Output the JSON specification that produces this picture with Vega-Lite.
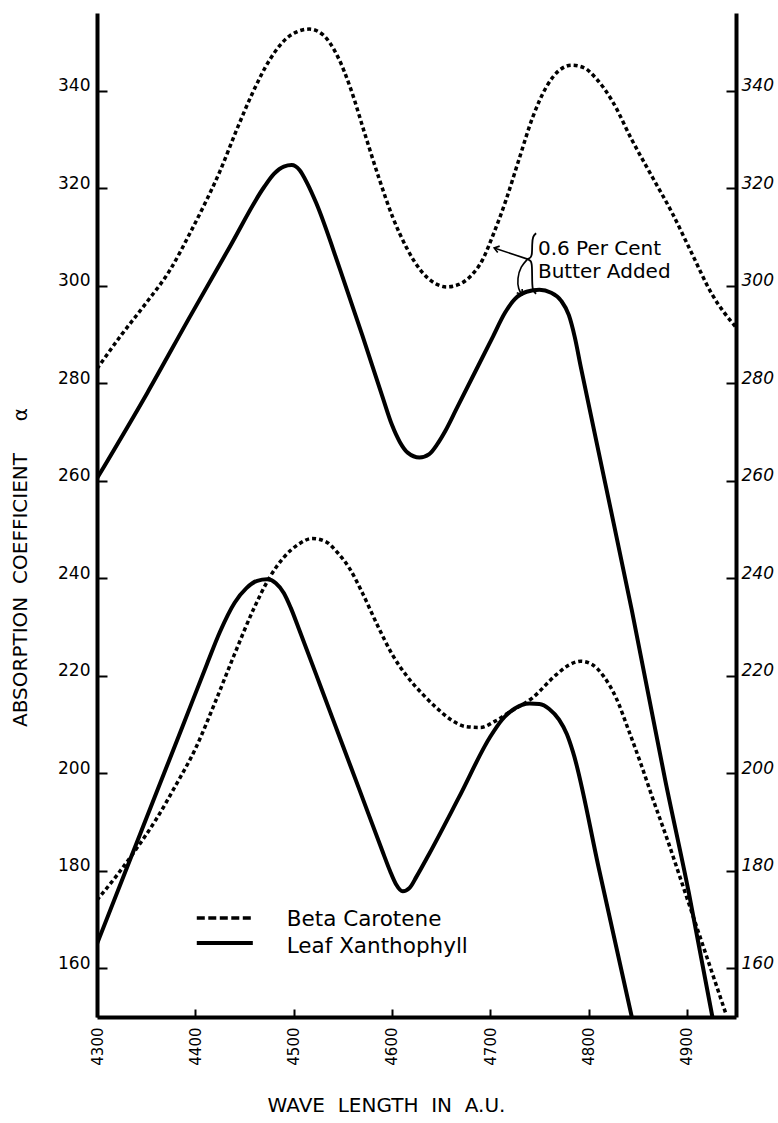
{
  "$schema": "https://vega.github.io/schema/vega-lite/v6.json",
  "width": 639,
  "height": 1004,
  "autosize": {"type": "none"},
  "padding": {"left": 97, "top": 13, "right": 42, "bottom": 106},
  "background": "white",
  "config": {
    "view": {"stroke": null},
    "font": "DejaVu Sans",
    "axis": {
      "grid": false,
      "domainColor": "black",
      "domainWidth": 4,
      "tickColor": "black",
      "tickWidth": 2,
      "labelColor": "black",
      "titleColor": "black",
      "labelFont": "DejaVu Sans",
      "titleFont": "DejaVu Sans",
      "titleFontWeight": "normal"
    }
  },
  "datasets": {
    "curves": [
      {"s": "Beta Carotene", "g": "butter", "w": 4300, "a": 283},
      {"s": "Beta Carotene", "g": "butter", "w": 4325, "a": 290},
      {"s": "Beta Carotene", "g": "butter", "w": 4350, "a": 296.5},
      {"s": "Beta Carotene", "g": "butter", "w": 4375, "a": 303.5},
      {"s": "Beta Carotene", "g": "butter", "w": 4395, "a": 311},
      {"s": "Beta Carotene", "g": "butter", "w": 4410, "a": 317},
      {"s": "Beta Carotene", "g": "butter", "w": 4425, "a": 323.5},
      {"s": "Beta Carotene", "g": "butter", "w": 4442, "a": 332},
      {"s": "Beta Carotene", "g": "butter", "w": 4458, "a": 339.5},
      {"s": "Beta Carotene", "g": "butter", "w": 4476, "a": 346.5},
      {"s": "Beta Carotene", "g": "butter", "w": 4496, "a": 351.3},
      {"s": "Beta Carotene", "g": "butter", "w": 4516, "a": 352.7},
      {"s": "Beta Carotene", "g": "butter", "w": 4530, "a": 351.5},
      {"s": "Beta Carotene", "g": "butter", "w": 4545, "a": 347},
      {"s": "Beta Carotene", "g": "butter", "w": 4558, "a": 340.5},
      {"s": "Beta Carotene", "g": "butter", "w": 4572, "a": 331.5},
      {"s": "Beta Carotene", "g": "butter", "w": 4587, "a": 322},
      {"s": "Beta Carotene", "g": "butter", "w": 4601, "a": 314},
      {"s": "Beta Carotene", "g": "butter", "w": 4615, "a": 307.8},
      {"s": "Beta Carotene", "g": "butter", "w": 4630, "a": 303},
      {"s": "Beta Carotene", "g": "butter", "w": 4644, "a": 300.5},
      {"s": "Beta Carotene", "g": "butter", "w": 4656, "a": 299.8},
      {"s": "Beta Carotene", "g": "butter", "w": 4668, "a": 300.3},
      {"s": "Beta Carotene", "g": "butter", "w": 4680, "a": 302},
      {"s": "Beta Carotene", "g": "butter", "w": 4692, "a": 305.3},
      {"s": "Beta Carotene", "g": "butter", "w": 4703, "a": 310.5},
      {"s": "Beta Carotene", "g": "butter", "w": 4716, "a": 317.6},
      {"s": "Beta Carotene", "g": "butter", "w": 4729, "a": 325.8},
      {"s": "Beta Carotene", "g": "butter", "w": 4743, "a": 334.5},
      {"s": "Beta Carotene", "g": "butter", "w": 4757, "a": 340.8},
      {"s": "Beta Carotene", "g": "butter", "w": 4770, "a": 344.2},
      {"s": "Beta Carotene", "g": "butter", "w": 4783, "a": 345.3},
      {"s": "Beta Carotene", "g": "butter", "w": 4795, "a": 344.8},
      {"s": "Beta Carotene", "g": "butter", "w": 4808, "a": 342.5},
      {"s": "Beta Carotene", "g": "butter", "w": 4824, "a": 338},
      {"s": "Beta Carotene", "g": "butter", "w": 4844, "a": 330},
      {"s": "Beta Carotene", "g": "butter", "w": 4865, "a": 322.3},
      {"s": "Beta Carotene", "g": "butter", "w": 4885, "a": 315},
      {"s": "Beta Carotene", "g": "butter", "w": 4905, "a": 306.7},
      {"s": "Beta Carotene", "g": "butter", "w": 4925, "a": 298.5},
      {"s": "Beta Carotene", "g": "butter", "w": 4950, "a": 291.5},
      {"s": "Leaf Xanthophyll", "g": "butter", "w": 4300, "a": 260.5},
      {"s": "Leaf Xanthophyll", "g": "butter", "w": 4351, "a": 278},
      {"s": "Leaf Xanthophyll", "g": "butter", "w": 4394, "a": 293.5},
      {"s": "Leaf Xanthophyll", "g": "butter", "w": 4435, "a": 308},
      {"s": "Leaf Xanthophyll", "g": "butter", "w": 4470, "a": 320.3},
      {"s": "Leaf Xanthophyll", "g": "butter", "w": 4480, "a": 323},
      {"s": "Leaf Xanthophyll", "g": "butter", "w": 4490, "a": 324.5},
      {"s": "Leaf Xanthophyll", "g": "butter", "w": 4498, "a": 324.8},
      {"s": "Leaf Xanthophyll", "g": "butter", "w": 4506, "a": 323.8},
      {"s": "Leaf Xanthophyll", "g": "butter", "w": 4514, "a": 321},
      {"s": "Leaf Xanthophyll", "g": "butter", "w": 4523, "a": 317},
      {"s": "Leaf Xanthophyll", "g": "butter", "w": 4547, "a": 303.5},
      {"s": "Leaf Xanthophyll", "g": "butter", "w": 4570, "a": 289.8},
      {"s": "Leaf Xanthophyll", "g": "butter", "w": 4590, "a": 277.5},
      {"s": "Leaf Xanthophyll", "g": "butter", "w": 4600, "a": 271.5},
      {"s": "Leaf Xanthophyll", "g": "butter", "w": 4608, "a": 268},
      {"s": "Leaf Xanthophyll", "g": "butter", "w": 4616, "a": 265.8},
      {"s": "Leaf Xanthophyll", "g": "butter", "w": 4628, "a": 264.8},
      {"s": "Leaf Xanthophyll", "g": "butter", "w": 4638, "a": 265.5},
      {"s": "Leaf Xanthophyll", "g": "butter", "w": 4646, "a": 267.5},
      {"s": "Leaf Xanthophyll", "g": "butter", "w": 4655, "a": 270.5},
      {"s": "Leaf Xanthophyll", "g": "butter", "w": 4665, "a": 274.5},
      {"s": "Leaf Xanthophyll", "g": "butter", "w": 4686, "a": 282.9},
      {"s": "Leaf Xanthophyll", "g": "butter", "w": 4702, "a": 289.3},
      {"s": "Leaf Xanthophyll", "g": "butter", "w": 4715, "a": 294.5},
      {"s": "Leaf Xanthophyll", "g": "butter", "w": 4725, "a": 297.3},
      {"s": "Leaf Xanthophyll", "g": "butter", "w": 4737, "a": 298.8},
      {"s": "Leaf Xanthophyll", "g": "butter", "w": 4750, "a": 299.2},
      {"s": "Leaf Xanthophyll", "g": "butter", "w": 4762, "a": 298.6},
      {"s": "Leaf Xanthophyll", "g": "butter", "w": 4772, "a": 297},
      {"s": "Leaf Xanthophyll", "g": "butter", "w": 4780, "a": 294},
      {"s": "Leaf Xanthophyll", "g": "butter", "w": 4786, "a": 289.5},
      {"s": "Leaf Xanthophyll", "g": "butter", "w": 4792, "a": 283.5},
      {"s": "Leaf Xanthophyll", "g": "butter", "w": 4817, "a": 259.5},
      {"s": "Leaf Xanthophyll", "g": "butter", "w": 4844, "a": 233.5},
      {"s": "Leaf Xanthophyll", "g": "butter", "w": 4878, "a": 198.6},
      {"s": "Leaf Xanthophyll", "g": "butter", "w": 4902, "a": 175.5},
      {"s": "Leaf Xanthophyll", "g": "butter", "w": 4926, "a": 150},
      {"s": "Beta Carotene", "g": "none", "w": 4300, "a": 174},
      {"s": "Beta Carotene", "g": "none", "w": 4320, "a": 179},
      {"s": "Beta Carotene", "g": "none", "w": 4340, "a": 184.5},
      {"s": "Beta Carotene", "g": "none", "w": 4360, "a": 190.5},
      {"s": "Beta Carotene", "g": "none", "w": 4380, "a": 197.5},
      {"s": "Beta Carotene", "g": "none", "w": 4400, "a": 205},
      {"s": "Beta Carotene", "g": "none", "w": 4420, "a": 214.5},
      {"s": "Beta Carotene", "g": "none", "w": 4440, "a": 224.5},
      {"s": "Beta Carotene", "g": "none", "w": 4460, "a": 234},
      {"s": "Beta Carotene", "g": "none", "w": 4475, "a": 240},
      {"s": "Beta Carotene", "g": "none", "w": 4490, "a": 244.3},
      {"s": "Beta Carotene", "g": "none", "w": 4505, "a": 247},
      {"s": "Beta Carotene", "g": "none", "w": 4519, "a": 248.2},
      {"s": "Beta Carotene", "g": "none", "w": 4533, "a": 247.5},
      {"s": "Beta Carotene", "g": "none", "w": 4545, "a": 245.2},
      {"s": "Beta Carotene", "g": "none", "w": 4557, "a": 242},
      {"s": "Beta Carotene", "g": "none", "w": 4570, "a": 237},
      {"s": "Beta Carotene", "g": "none", "w": 4585, "a": 230.5},
      {"s": "Beta Carotene", "g": "none", "w": 4600, "a": 224.5},
      {"s": "Beta Carotene", "g": "none", "w": 4615, "a": 220},
      {"s": "Beta Carotene", "g": "none", "w": 4630, "a": 216.5},
      {"s": "Beta Carotene", "g": "none", "w": 4645, "a": 213.5},
      {"s": "Beta Carotene", "g": "none", "w": 4660, "a": 211},
      {"s": "Beta Carotene", "g": "none", "w": 4675, "a": 209.6},
      {"s": "Beta Carotene", "g": "none", "w": 4690, "a": 209.4},
      {"s": "Beta Carotene", "g": "none", "w": 4705, "a": 210.7},
      {"s": "Beta Carotene", "g": "none", "w": 4720, "a": 212.6},
      {"s": "Beta Carotene", "g": "none", "w": 4743, "a": 215.5},
      {"s": "Beta Carotene", "g": "none", "w": 4767, "a": 220.2},
      {"s": "Beta Carotene", "g": "none", "w": 4780, "a": 222.2},
      {"s": "Beta Carotene", "g": "none", "w": 4792, "a": 223},
      {"s": "Beta Carotene", "g": "none", "w": 4803, "a": 222.4},
      {"s": "Beta Carotene", "g": "none", "w": 4815, "a": 220},
      {"s": "Beta Carotene", "g": "none", "w": 4828, "a": 215.5},
      {"s": "Beta Carotene", "g": "none", "w": 4841, "a": 208.7},
      {"s": "Beta Carotene", "g": "none", "w": 4854, "a": 201.5},
      {"s": "Beta Carotene", "g": "none", "w": 4865, "a": 195},
      {"s": "Beta Carotene", "g": "none", "w": 4880, "a": 186.5},
      {"s": "Beta Carotene", "g": "none", "w": 4895, "a": 177.5},
      {"s": "Beta Carotene", "g": "none", "w": 4912, "a": 167.3},
      {"s": "Beta Carotene", "g": "none", "w": 4925, "a": 159.5},
      {"s": "Beta Carotene", "g": "none", "w": 4940, "a": 150.5},
      {"s": "Leaf Xanthophyll", "g": "none", "w": 4300, "a": 165},
      {"s": "Leaf Xanthophyll", "g": "none", "w": 4337, "a": 184},
      {"s": "Leaf Xanthophyll", "g": "none", "w": 4361, "a": 196.3},
      {"s": "Leaf Xanthophyll", "g": "none", "w": 4387, "a": 209.6},
      {"s": "Leaf Xanthophyll", "g": "none", "w": 4412, "a": 222.5},
      {"s": "Leaf Xanthophyll", "g": "none", "w": 4425, "a": 229},
      {"s": "Leaf Xanthophyll", "g": "none", "w": 4440, "a": 235},
      {"s": "Leaf Xanthophyll", "g": "none", "w": 4452, "a": 238},
      {"s": "Leaf Xanthophyll", "g": "none", "w": 4463, "a": 239.5},
      {"s": "Leaf Xanthophyll", "g": "none", "w": 4473, "a": 239.8},
      {"s": "Leaf Xanthophyll", "g": "none", "w": 4482, "a": 239},
      {"s": "Leaf Xanthophyll", "g": "none", "w": 4490, "a": 237},
      {"s": "Leaf Xanthophyll", "g": "none", "w": 4497, "a": 234},
      {"s": "Leaf Xanthophyll", "g": "none", "w": 4506, "a": 229.3},
      {"s": "Leaf Xanthophyll", "g": "none", "w": 4529, "a": 217},
      {"s": "Leaf Xanthophyll", "g": "none", "w": 4550, "a": 205.7},
      {"s": "Leaf Xanthophyll", "g": "none", "w": 4567, "a": 196.6},
      {"s": "Leaf Xanthophyll", "g": "none", "w": 4590, "a": 184.2},
      {"s": "Leaf Xanthophyll", "g": "none", "w": 4598, "a": 180},
      {"s": "Leaf Xanthophyll", "g": "none", "w": 4604, "a": 177.3},
      {"s": "Leaf Xanthophyll", "g": "none", "w": 4611, "a": 175.8},
      {"s": "Leaf Xanthophyll", "g": "none", "w": 4618, "a": 176.5},
      {"s": "Leaf Xanthophyll", "g": "none", "w": 4625, "a": 178.8},
      {"s": "Leaf Xanthophyll", "g": "none", "w": 4638, "a": 183.5},
      {"s": "Leaf Xanthophyll", "g": "none", "w": 4668, "a": 195},
      {"s": "Leaf Xanthophyll", "g": "none", "w": 4700, "a": 207.5},
      {"s": "Leaf Xanthophyll", "g": "none", "w": 4712, "a": 211},
      {"s": "Leaf Xanthophyll", "g": "none", "w": 4725, "a": 213.3},
      {"s": "Leaf Xanthophyll", "g": "none", "w": 4740, "a": 214.3},
      {"s": "Leaf Xanthophyll", "g": "none", "w": 4750, "a": 214.2},
      {"s": "Leaf Xanthophyll", "g": "none", "w": 4760, "a": 213.2},
      {"s": "Leaf Xanthophyll", "g": "none", "w": 4770, "a": 211},
      {"s": "Leaf Xanthophyll", "g": "none", "w": 4778, "a": 208},
      {"s": "Leaf Xanthophyll", "g": "none", "w": 4784, "a": 204.5},
      {"s": "Leaf Xanthophyll", "g": "none", "w": 4811, "a": 180},
      {"s": "Leaf Xanthophyll", "g": "none", "w": 4844, "a": 150}
    ]
  },
  "encoding": {
    "x": {"field": "w", "type": "quantitative", "scale": {"domain": [4300, 4950], "nice": false, "zero": false},
      "axis": {"values": [4300, 4400, 4500, 4600, 4700, 4800, 4900], "format": "d", "labelAngle": -90, "labelFontSize": 15, "tickSize": -8, "labelPadding": 18,
        "title": "WAVE\u00a0 LENGTH\u00a0 IN\u00a0 A.U.", "titleFontSize": 20, "titleX": 289, "titleY": 88, "titleAlign": "center", "titleBaseline": "middle"}},
    "y": {"field": "a", "type": "quantitative", "scale": {"domain": [150, 356], "nice": false, "zero": false}, "axis": null}
  },
  "layer": [
    {
      "data": {"name": "curves"},
      "transform": [{"filter": "datum.s == 'Leaf Xanthophyll'"}],
      "mark": {"type": "line", "color": "black", "strokeWidth": 4, "interpolate": "monotone", "clip": true, "strokeJoin": "round"},
      "encoding": {
        "y": {"field": "a", "type": "quantitative", "scale": {"domain": [150, 356], "nice": false, "zero": false},
          "axis": {"orient": "left", "values": [160, 180, 200, 220, 240, 260, 280, 300, 320, 340], "labelFontSize": 17, "labelBaseline": "alphabetic", "tickSize": -10, "labelPadding": 17,
            "title": "ABSORPTION\u00a0 COEFFICIENT\u00a0\u00a0\u00a0\u00a0 α", "titleFontSize": 20, "titleAngle": -90, "titleX": -77, "titleY": 554, "titleAlign": "center", "titleBaseline": "middle"}},
        "detail": {"field": "g"}
      }
    },
    {
      "data": {"name": "curves"},
      "transform": [{"filter": "datum.s == 'Beta Carotene'"}],
      "mark": {"type": "line", "color": "black", "strokeWidth": 3.5, "strokeDash": [4, 3], "interpolate": "monotone", "clip": true},
      "encoding": {
        "y": {"field": "a", "type": "quantitative", "scale": {"domain": [150, 356], "nice": false, "zero": false},
          "axis": {"orient": "right", "values": [160, 180, 200, 220, 240, 260, 280, 300, 320, 340], "labelFontSize": 17, "labelFontStyle": "italic", "labelBaseline": "alphabetic", "tickSize": -10, "labelPadding": 15, "title": null}},
        "detail": {"field": "g"}
      }
    },
    {
      "data": {"values": [{"s": "Beta Carotene", "w": 4401.5, "w2": 4458.5, "a": 170.3}]},
      "mark": {"type": "rule", "color": "black", "strokeWidth": 3.5, "strokeDash": [8, 3.5]},
      "encoding": {"x2": {"field": "w2"}}
    },
    {
      "data": {"values": [{"s": "Leaf Xanthophyll", "w": 4401.5, "w2": 4458.5, "a": 165.2}]},
      "mark": {"type": "rule", "color": "black", "strokeWidth": 4},
      "encoding": {"x2": {"field": "w2"}}
    },
    {
      "data": {"values": [
        {"t": "Beta Carotene", "w": 4493, "a": 168.6},
        {"t": "Leaf Xanthophyll", "w": 4493, "a": 163.2}
      ]},
      "mark": {"type": "text", "align": "left", "baseline": "alphabetic", "fontSize": 21.5, "font": "DejaVu Sans", "color": "black"},
      "encoding": {"text": {"field": "t"}}
    },
    {
      "data": {"values": [
        {"t": "0.6 Per Cent", "w": 4748.5, "a": 306.3},
        {"t": "Butter Added", "w": 4748.5, "a": 301.6}
      ]},
      "mark": {"type": "text", "align": "left", "baseline": "alphabetic", "fontSize": 20, "font": "DejaVu Sans", "color": "black"},
      "encoding": {"text": {"field": "t"}}
    },
    {
      "data": {"values": [
        {"p": "brace", "o": 1, "w": 4746.7, "a": 310.8},
        {"p": "brace", "o": 2, "w": 4743.2, "a": 310.2},
        {"p": "brace", "o": 3, "w": 4742.6, "a": 308.5},
        {"p": "brace", "o": 4, "w": 4742.6, "a": 306.6},
        {"p": "brace", "o": 5, "w": 4741.5, "a": 305.8},
        {"p": "brace", "o": 6, "w": 4737.8, "a": 305.5},
        {"p": "brace", "o": 7, "w": 4737.8, "a": 305.5},
        {"p": "brace", "o": 8, "w": 4741.5, "a": 305.2},
        {"p": "brace", "o": 9, "w": 4742.6, "a": 304.3},
        {"p": "brace", "o": 10, "w": 4742.6, "a": 300.6},
        {"p": "brace", "o": 11, "w": 4743.2, "a": 299.0},
        {"p": "brace", "o": 12, "w": 4746.7, "a": 298.4}
      ]},
      "mark": {"type": "line", "color": "black", "strokeWidth": 1.8, "interpolate": "basis"},
      "encoding": {
        "detail": {"field": "p"},
        "order": {"field": "o"}
      }
    },
    {
      "data": {"values": [
        {"p": "a1", "o": 1, "w": 4738, "a": 305.5},
        {"p": "a1", "o": 2, "w": 4704, "a": 307.8},
        {"p": "a2", "o": 1, "w": 4738, "a": 305.5},
        {"p": "a2", "o": 2, "w": 4731, "a": 304},
        {"p": "a2", "o": 3, "w": 4727.5, "a": 301.5},
        {"p": "a2", "o": 4, "w": 4728.5, "a": 299.3},
        {"p": "a2", "o": 5, "w": 4732.5, "a": 298.2}
      ]},
      "mark": {"type": "line", "color": "black", "strokeWidth": 1.6, "interpolate": "basis"},
      "encoding": {
        "detail": {"field": "p"},
        "order": {"field": "o"}
      }
    },
    {
      "data": {"values": [{"w": 4704, "a": 307.8}]},
      "mark": {"type": "point", "shape": "M 1 -0.7 L 0 0 L 1 0.7", "size": 90, "filled": false, "color": "black", "strokeWidth": 1.6, "angle": 17, "opacity": 1}
    },
    {
      "data": {"values": [{"w": 4732.5, "a": 298.2}]},
      "mark": {"type": "point", "shape": "M 1 -0.7 L 0 0 L 1 0.7", "size": 90, "filled": false, "color": "black", "strokeWidth": 1.6, "angle": 235, "opacity": 1}
    }
  ],
  "resolve": {"axis": {"y": "independent"}}
}
